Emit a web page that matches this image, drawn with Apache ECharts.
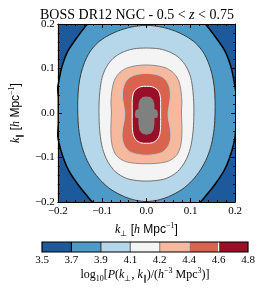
<!DOCTYPE html>
<html><head><meta charset="utf-8">
<script src="https://cdn.jsdelivr.net/npm/echarts@6/dist/echarts.min.js"></script>
<style>html,body{margin:0;padding:0;background:#fff}#c{width:274px;height:295px}</style>
</head><body><div id="c"></div>
<script>
// colour levels and labels
const levels = [3.5, 3.7, 3.9, 4.1, 4.2, 4.4, 4.6, 4.8];
const cbTickLabels = ['3.5', '3.7', '3.9', '4.1', '4.2', '4.4', '4.6', '4.8'];
const bandColors = ['#1c5a9c', '#4d9ac8', '#b5d7e9', '#f4f4f4', '#f7b99e', '#d8644f', '#980f27'];
const overColor = '#808080';
const lineColors = ['#000000', '#393939', '#707070', '#8e8e8e', '#c6c6c6', '#ffffff'];
const axisTickLabels = ['\u22120.2', '\u22120.1', '0.0', '0.1', '0.2'];

// contour lines, right half [k_perp, k_par], from top to bottom
const c37 = [[0,0.262],[0.06,0.252],[0.105,0.228],[0.135,0.198],[0.158,0.168],[0.178,0.138],[0.191,0.103],[0.199,0.065],[0.204,0.03],[0.205,0],[0.203,-0.03],[0.198,-0.065],[0.188,-0.1],[0.175,-0.13],[0.155,-0.16],[0.135,-0.185],[0.115,-0.207],[0.07,-0.24],[0,-0.255]];
const c39 = [[0,0.197],[0.035,0.193],[0.065,0.184],[0.09,0.172],[0.11,0.158],[0.128,0.137],[0.14,0.113],[0.148,0.088],[0.153,0.06],[0.155,0.03],[0.155,0],[0.153,-0.035],[0.147,-0.07],[0.137,-0.1],[0.122,-0.128],[0.103,-0.152],[0.08,-0.172],[0.05,-0.188],[0.025,-0.196],[0,-0.199]];
const c41 = [[0,0.146],[0.03,0.144],[0.055,0.136],[0.075,0.123],[0.09,0.104],[0.1,0.08],[0.105,0.05],[0.107,0.02],[0.107,-0.01],[0.105,-0.045],[0.099,-0.08],[0.088,-0.108],[0.07,-0.132],[0.045,-0.147],[0.02,-0.152],[0,-0.153]];
const c42 = [[0,0.108],[0.025,0.106],[0.047,0.1],[0.063,0.088],[0.073,0.072],[0.078,0.05],[0.08,0.025],[0.079,0],[0.08,-0.025],[0.08,-0.05],[0.077,-0.075],[0.068,-0.095],[0.05,-0.108],[0.025,-0.113],[0,-0.114]];
const c44 = [[0,0.089],[0.02,0.087],[0.036,0.081],[0.047,0.07],[0.053,0.055],[0.054,0.035],[0.051,0.015],[0.049,0],[0.05,-0.015],[0.054,-0.035],[0.055,-0.055],[0.05,-0.073],[0.038,-0.087],[0.02,-0.093],[0,-0.095]];
const c46 = [[0,0.06],[0.013,0.059],[0.024,0.053],[0.03,0.043],[0.032,0.028],[0.032,0],[0.032,-0.03],[0.03,-0.048],[0.024,-0.06],[0.013,-0.067],[0,-0.068]];
const c48 = [[0,0.037],[0.009,0.036],[0.015,0.03],[0.018,0.02],[0.018,0.009],[0.024,0.007],[0.026,-0.002],[0.025,-0.01],[0.018,-0.012],[0.018,-0.025],[0.016,-0.038],[0.01,-0.046],[0,-0.049]];

const contours = [c37, c39, c41, c42, c44, c46, c48];

function closed(half) {
  const pts = half.slice();
  for (let i = half.length - 2; i >= 1; i--) pts.push([-half[i][0], half[i][1]]);
  return pts;
}

const serif = 'Liberation Serif';
const sub = {fontSize: 8, fontFamily: serif, verticalAlign: 'bottom', lineHeight: 16};
const sup = {fontSize: 8, fontFamily: serif, verticalAlign: 'top', lineHeight: 16};
const it = {fontStyle: 'italic', fontFamily: serif, fontSize: 12, lineHeight: 16};
const nm = {fontFamily: serif, fontSize: 12, lineHeight: 16};
const richSet = {s: sub, u: sup, i: it, n: nm};

const chart = echarts.init(document.getElementById('c'), null, {renderer: 'canvas'});
const tickFmt = v => axisTickLabels[Math.round((v + 0.2) / 0.1)];

const axisCommon = {
  type: 'value', min: -0.2, max: 0.2, interval: 0.1, z: 10,
  axisLine: {show: true, onZero: false, lineStyle: {color: '#000', width: 1}},
  axisTick: {show: true, inside: true, length: 4, lineStyle: {color: '#000'}},
  minorTick: {show: true, splitNumber: 5, length: 2, lineStyle: {color: '#000'}},
  splitLine: {show: false}
};

chart.setOption({
  animation: false,
  backgroundColor: '#fff',
  title: {
    text: '{n|BOSS DR12 NGC - 0.5 < }{i|z}{n| < 0.75}',
    left: 'center', top: 3,
    textStyle: {fontWeight: 'normal', rich: {
      n: {fontFamily: serif, fontSize: 14, fontWeight: 'normal', color: '#000'},
      i: {fontFamily: serif, fontStyle: 'italic', fontWeight: 'normal', fontSize: 14, color: '#000'}}}
  },
  grid: [
    {left: 55, top: 24, width: 180, height: 178, show: true, backgroundColor: bandColors[0], borderWidth: 0},
    {left: 42, top: 242, width: 206, height: 10, show: false}
  ],
  xAxis: [
    Object.assign({}, axisCommon, {gridIndex: 0, position: 'bottom',
      axisLabel: {formatter: tickFmt, fontFamily: serif, fontSize: 11, color: '#000', margin: 4},
      name: '{i|k}{s|\u22a5} [{i|h} Mpc{u|\u22121}]', nameLocation: 'middle', nameGap: 15,
      nameTextStyle: {color: '#000', rich: richSet}}),
    Object.assign({}, axisCommon, {gridIndex: 0, position: 'top', axisLabel: {show: false}}),
    {type: 'value', gridIndex: 1, min: 0, max: 7, interval: 1, position: 'bottom',
      axisLine: {show: false}, axisTick: {show: false}, splitLine: {show: false},
      axisLabel: {formatter: v => cbTickLabels[v], fontFamily: serif, fontSize: 11, color: '#000', margin: 3},
      name: 'log{s|10}[{i|P}({i|k}{s|\u22a5}, {i|k}{s|\u2225})/({i|h}{u|\u22123} Mpc{u|3})]',
      nameLocation: 'middle', nameGap: 14, nameTextStyle: {color: '#000', fontFamily: serif, fontSize: 12, rich: richSet}}
  ],
  yAxis: [
    Object.assign({}, axisCommon, {gridIndex: 0, position: 'left',
      axisLabel: {formatter: tickFmt, fontFamily: serif, fontSize: 11, color: '#000', margin: 3},
      name: '{i|k}{s|\u2225} [{i|h} Mpc{u|\u22121}]', nameLocation: 'middle', nameGap: 27, nameRotate: 90,
      nameTextStyle: {color: '#000', rich: richSet}}),
    Object.assign({}, axisCommon, {gridIndex: 0, position: 'right', axisLabel: {show: false}}),
    {type: 'value', gridIndex: 1, min: 0, max: 1, show: false}
  ],
  series: [
    {
      type: 'custom', xAxisIndex: 0, yAxisIndex: 0, clip: true, z: 2,
      data: contours.map((c, i) => [0, 0, i]),
      renderItem: function (params, api) {
        const i = params.dataIndex;
        const pts = closed(contours[i]).map(p => api.coord(p));
        const isOver = i === contours.length - 1;
        return {
          type: 'polygon', z2: i,
          shape: {points: pts, smooth: isOver ? 0 : 0.3},
          style: {
            fill: isOver ? overColor : bandColors[i + 1],
            stroke: isOver ? null : lineColors[i],
            lineWidth: isOver ? 0 : (i === 0 ? 1.5 : 1)
          }
        };
      }
    },
    {
      type: 'custom', xAxisIndex: 2, yAxisIndex: 2, clip: false, z: 2,
      data: bandColors.map((c, i) => [i, i + 1]).concat([[0, 7]]),
      renderItem: function (params, api) {
        const i = params.dataIndex;
        const a = api.coord([api.value(0), 1]);
        const b = api.coord([api.value(1), 0]);
        if (i === bandColors.length) {
          return {type: 'rect', z2: 20, shape: {x: a[0], y: a[1], width: b[0] - a[0], height: b[1] - a[1]},
            style: {fill: null, stroke: '#000', lineWidth: 1.2}};
        }
        const children = [{type: 'rect', shape: {x: a[0], y: a[1], width: b[0] - a[0], height: b[1] - a[1]},
          style: {fill: bandColors[i]}}];
        if (i > 0) {
          children.push({type: 'line', z2: 5, shape: {x1: a[0], y1: a[1], x2: a[0], y2: b[1]},
            style: {stroke: lineColors[i - 1], lineWidth: 1.2}});
        }
        return {type: 'group', children: children};
      }
    }
  ]
});
</script>
</body></html>
